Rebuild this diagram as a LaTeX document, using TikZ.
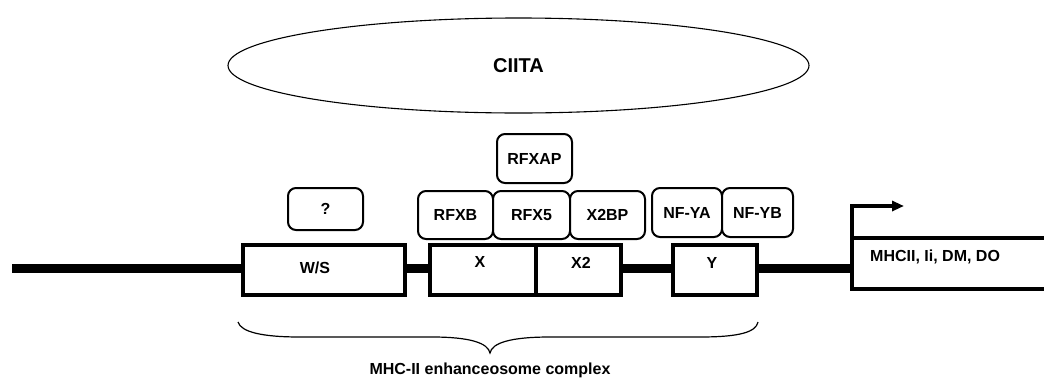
\documentclass[tikz,border=0pt]{standalone}
\usepackage{fontspec}
\setmainfont{Liberation Sans}
\usetikzlibrary{shapes.geometric,arrows.meta}
\begin{document}
\begin{tikzpicture}[x=1pt,y=-1pt,
  lbl/.style={font=\bfseries\fontsize{16}{18}\selectfont, inner sep=0pt},
  site/.style={draw, line width=3.5pt, fill=white, minimum height=50pt, inner sep=0pt},
  factor/.style={draw, line width=2pt, fill=white, rounded corners=8pt, inner sep=0pt,
                 font=\bfseries\fontsize{16}{18}\selectfont},
  dna/.style={line width=8.5pt},
  gene/.style={line width=3.5pt}]
\useasboundingbox (0,0) rectangle (1044,378);

% promoter DNA strand
\coordinate (dnaL) at (12,268.5);
\coordinate (tss) at (852,268.5);
\draw[dna] (dnaL) -- (tss);

% gene body with transcription start arrow
\coordinate (gTR) at (1050,238);
\coordinate (gTL) at (852,238);
\coordinate (gBL) at (852,289);
\coordinate (gBR) at (1050,289);
\coordinate (bend) at (852,206);
\coordinate (arrowtip) at (904,206);
\draw[gene] (gTR) -- (gTL);
\draw[gene, -{Triangle[length=12pt,width=10pt]}] (gBR) -- (gBL) -- (bend) -- (arrowtip);
\node[lbl, anchor=west] (geneT) at (870,257) {MHCII, Ii, DM, DO};

% promoter elements
\node[site, minimum width=162pt] (ws) at (324,270) {};
\node[site, minimum width=106pt] (x) at (483,270) {};
\node[site, minimum width=85pt] (x2) at (578.5,270) {};
\node[site, minimum width=84pt] (y) at (715,270) {};
\node[lbl] (wsT) at (315,268) {W/S};
\node[lbl] (xT) at (480,262) {X};
\node[lbl] (x2T) at (581,263) {X2};
\node[lbl] (yT) at (712,263) {Y};

% bound factors
\node[factor, minimum width=75pt, minimum height=42pt] (unk) at (325.5,209) {?};
\node[factor, minimum width=75pt, minimum height=48pt] (rfxb) at (455.5,215) {RFXB};
\node[factor, minimum width=77pt, minimum height=48pt] (rfx5) at (531.5,215) {RFX5};
\node[factor, minimum width=75pt, minimum height=48pt] (x2bp) at (607.5,215) {X2BP};
\node[factor, minimum width=75pt, minimum height=49pt] (rfxap) at (534.5,158.5) {RFXAP};
\node[factor, minimum width=70pt, minimum height=49pt] (nfya) at (687,212.5) {NF-YA};
\node[factor, minimum width=71pt, minimum height=49pt] (nfyb) at (757.5,212.5) {NF-YB};

% coactivator
\node[draw, ellipse, line width=1.1pt, minimum width=581pt, minimum height=95pt, inner sep=0pt,
      font=\bfseries\fontsize{20}{22}\selectfont] (ciita) at (518.5,65.5) {CIITA};

% brace spanning the enhanceosome
\coordinate (braceL) at (238,322);
\coordinate (braceR) at (758,322);
\coordinate (braceTip) at (490,353);
\draw[line width=1.2pt] (braceL) .. controls (241,332) and (262,337) .. (300,337) -- (432,337)
  .. controls (470,337) and (488,343) .. (braceTip)
  .. controls (492,343) and (510,337) .. (550,337) -- (700,337)
  .. controls (740,337) and (756,332) .. (braceR);
\node[lbl, anchor=base] (encT) at (490,374) {MHC-II enhanceosome complex};
\end{tikzpicture}
\end{document}
